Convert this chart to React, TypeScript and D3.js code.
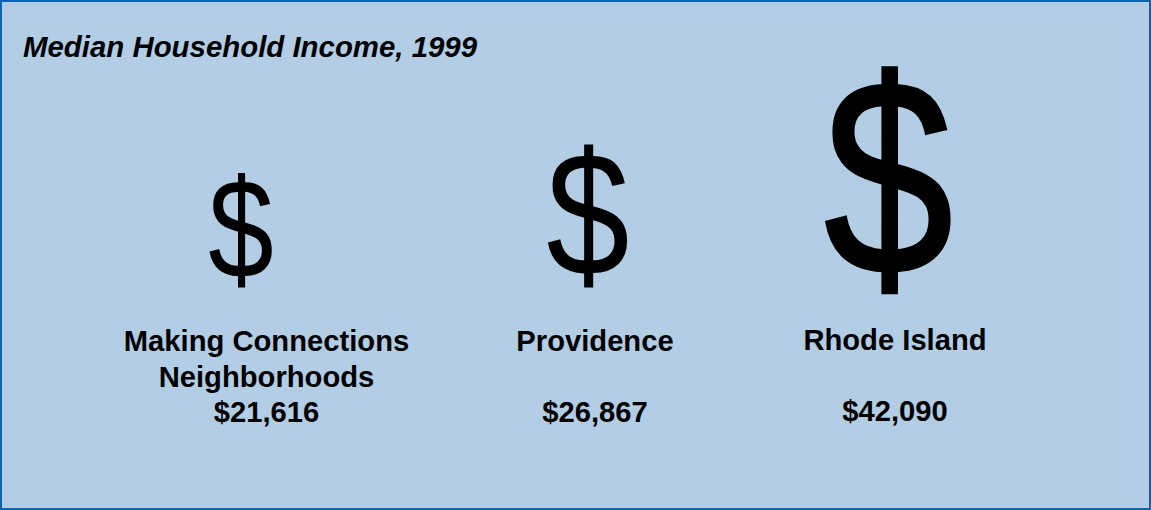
import React from "react";
import * as d3 from "d3";

const names = [["Making Connections", "Neighborhoods"], ["Providence"], ["Rhode Island"]];
const values = [21616, 26867, 42090];
const labels = ["$21,616", "$26,867", "$42,090"];
const nameBaselines = [[351, 387], [351], [349.5]];
const valueBaselines = [422, 422, 420.5];
const centers = [266.5, 595, 895];
const symbolX = [241, 588, 888.5];
const symbolBaselines = [278, 275, 273.5];
const symbolStroke = [0, 0, 3];
const symbolStretch = [0.835, 0.85, 0.835];

const W = 1151, H = 510;
const size = d3.scaleLinear().domain([21616, 42090]).range([141, 278]);

export default function App() {
  React.useEffect(() => {
    document.body.style.margin = "0";
    document.body.style.overflow = "hidden";
  }, []);
  const font = "Liberation Sans, Arial, sans-serif";
  return (
    <svg width={W} height={H} style={{ display: "block", position: "absolute", left: 0, top: 0 }} fontFamily={font}>
      <rect x={1} y={1} width={W - 2} height={H - 2} fill="#b3cde4" stroke="#0f63b0" strokeWidth={2} />
      <text x={23} y={57} fontSize={29.4} fontWeight="bold" fontStyle="italic">Median Household Income, 1999</text>
      {values.map((v, i) => (
        <g key={i}>
          <text
            transform={`translate(${symbolX[i]},${symbolBaselines[i]}) scale(${symbolStretch[i]},1)`}
            fontSize={size(v)}
            textAnchor="middle"
            stroke="#000"
            strokeWidth={symbolStroke[i]}
          >$</text>
          {names[i].map((n, j) => (
            <text key={j} x={centers[i]} y={nameBaselines[i][j]} textAnchor="middle" fontSize={29.2} fontWeight="bold">{n}</text>
          ))}
          <text x={centers[i]} y={valueBaselines[i]} textAnchor="middle" fontSize={29.2} fontWeight="bold">{labels[i]}</text>
        </g>
      ))}
    </svg>
  );
}
